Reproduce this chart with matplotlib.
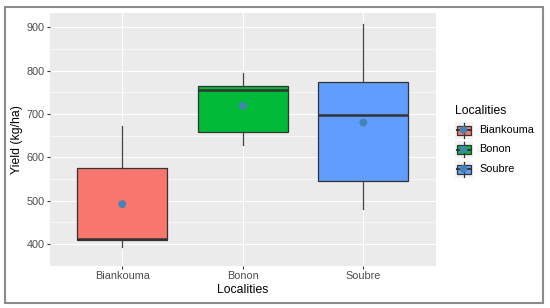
import matplotlib
matplotlib.use("Agg")
import matplotlib.pyplot as plt
from matplotlib.patches import Rectangle
from matplotlib.lines import Line2D

plt.rcParams['font.family'] = ['Liberation Sans', 'DejaVu Sans']

categories = ["Biankouma", "Bonon", "Soubre"]
whislo = [393, 629, 480]
q1 = [409, 659, 546]
med = [412, 755, 697]
q3 = [575, 765, 773]
whishi = [671, 795, 907]
means = [492, 719, 680]
colors = ["#F8766D", "#00BA38", "#619CFF"]
yticks = [400, 500, 600, 700, 800, 900]

W, H = 550, 308
fig = plt.figure(figsize=(W / 100, H / 100), dpi=100)
fig.patch.set_facecolor("white")

ax = fig.add_axes([50 / W, 1 - 265.7 / H, (435.6 - 50) / W, (265.7 - 13) / H])
ax.set_facecolor("#EBEBEB")
for s in ax.spines.values():
    s.set_visible(False)

stats = []
for i, c in enumerate(categories):
    stats.append(dict(label=c, whislo=whislo[i], q1=q1[i], med=med[i], q3=q3[i],
                      whishi=whishi[i], fliers=[]))
pos = [1, 2, 3]
bp = ax.bxp(stats, positions=pos, widths=0.75, patch_artist=True, showcaps=False,
            boxprops=dict(edgecolor="#333333", linewidth=0.9),
            whiskerprops=dict(color="#444444", linewidth=0.9),
            medianprops=dict(color="#333333", linewidth=1.8),
            zorder=3)
for patch, col in zip(bp['boxes'], colors):
    patch.set_facecolor(col)
ax.scatter(pos, means, s=32, color="#4682B4", zorder=5, edgecolors="none")

ax.set_xlim(0.4, 3.6)
lo, hi = min(whislo), max(whishi)
pad = 0.05 * (hi - lo)
ax.set_ylim(lo - pad, hi + pad)
ax.set_yticks(yticks)
ax.set_yticks([v + 50 for v in yticks[:-1]] + [350], minor=True)
ax.set_xticks(pos)
ax.set_xticklabels(categories)
ax.grid(True, which="major", color="white", linewidth=0.8, zorder=0)
ax.grid(True, which="minor", axis="y", color="white", linewidth=0.4, zorder=0)
ax.set_axisbelow(True)
ax.tick_params(axis="both", which="major", length=2.2, width=0.8, color="#333333",
               labelcolor="#4D4D4D", labelsize=7.8, pad=1.5)
ax.tick_params(which="minor", length=0)
ax.set_xlabel("Localities", fontsize=8.8, color="black", labelpad=2)
ax.set_ylabel("Yield (kg/ha)", fontsize=8.8, color="black", labelpad=2.5)

# legend drawn in pixel coordinates
lg = fig.add_axes([0, 0, 1, 1], facecolor="none")
lg.set_xlim(0, W)
lg.set_ylim(H, 0)
lg.axis("off")
lg.text(455, 111, "Localities", fontsize=8.8, va="center", ha="left", color="black")
rows = [130, 149.5, 169]
for i, c in enumerate(categories):
    y = rows[i]
    lg.add_patch(Rectangle((454.5, y - 8.5), 18, 17, facecolor="#F2F2F2", edgecolor="none"))
    lg.add_line(Line2D([463.5, 463.5], [y - 7.5, y + 7.5], color="#333333", linewidth=0.9))
    lg.add_patch(Rectangle((456.5, y - 4.5), 14, 9, facecolor=colors[i], edgecolor="#333333",
                           linewidth=0.9))
    lg.add_line(Line2D([456.5, 470.5], [y, y], color="#333333", linewidth=1.4))
    lg.scatter([463.5], [y], s=30, color="#4682B4", zorder=5, edgecolors="none")
    lg.text(479, y, c, fontsize=7.8, va="center", ha="left", color="black")

# outer border
fig.patches.append(Rectangle((5 / W, 1 - 303 / H), (543 - 5) / W, (303 - 7) / H,
                             transform=fig.transFigure, fill=False,
                             edgecolor="#8C8C8C", linewidth=1.5))

fig.savefig("out.png", dpi=100)
